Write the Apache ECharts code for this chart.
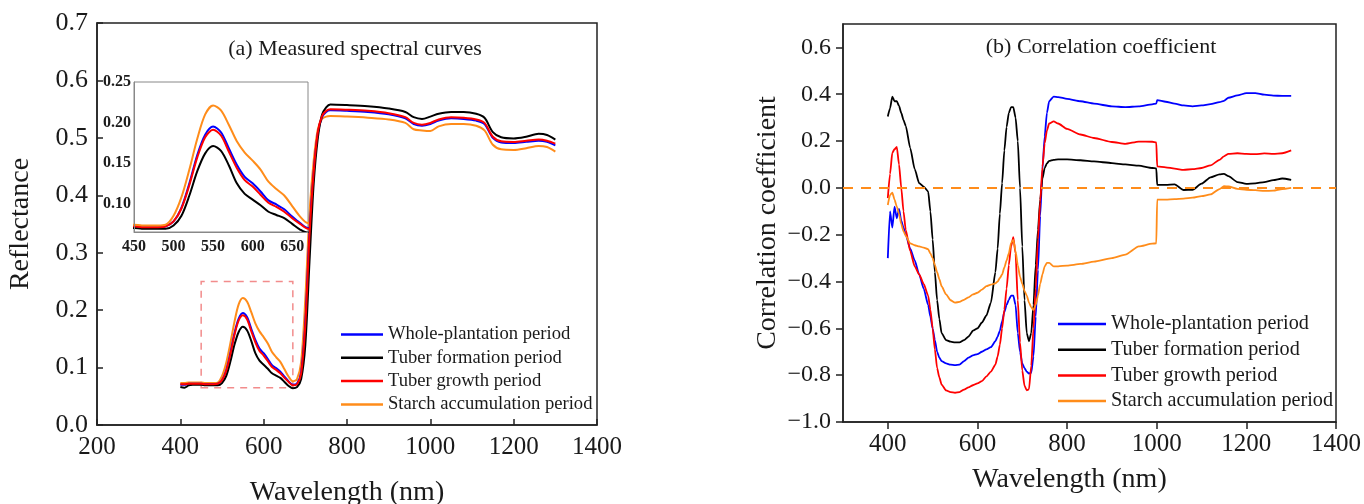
<!DOCTYPE html>
<html>
<head>
<meta charset="utf-8">
<script src="https://cdn.jsdelivr.net/npm/echarts@6/dist/echarts.min.js"></script>
<style>
  html, body { margin: 0; padding: 0; background: #fff; }
  #main { width: 1364px; height: 504px; }
</style>
</head>
<body>
<div id="main"></div>
<script>
// series names and colours
var names = ['Whole-plantation period', 'Tuber formation period', 'Tuber growth period', 'Starch accumulation period'];
var colors = ['#0000ff', '#000000', '#ff0000', '#ff8c1a'];

// (a) measured reflectance
var wlA = [400, 410, 420, 430, 440, 450, 460, 470, 480, 490, 500, 510, 520, 530, 540, 550, 560, 570, 580, 590,
  600, 610, 620, 630, 640, 650, 660, 670, 680, 690, 700, 710, 720, 730, 740, 750, 760, 800, 850, 900,
  940, 960, 980, 1000, 1020, 1050, 1080, 1110, 1130, 1150, 1170, 1200, 1230, 1260, 1280, 1300];
var reflWhole = [0.070, 0.070, 0.072, 0.072, 0.072, 0.072, 0.071, 0.071, 0.071, 0.072, 0.078, 0.095, 0.125, 0.160, 0.185, 0.195, 0.188, 0.168, 0.148, 0.133,
  0.125, 0.115, 0.104, 0.099, 0.093, 0.084, 0.076, 0.070, 0.072, 0.092, 0.180, 0.335, 0.440, 0.508, 0.536, 0.545, 0.548, 0.547, 0.545, 0.541,
  0.534, 0.524, 0.521, 0.524, 0.530, 0.534, 0.533, 0.530, 0.524, 0.500, 0.492, 0.491, 0.493, 0.495, 0.493, 0.487];
var reflFormation = [0.066, 0.065, 0.069, 0.070, 0.070, 0.070, 0.069, 0.069, 0.069, 0.069, 0.073, 0.085, 0.110, 0.140, 0.162, 0.171, 0.165, 0.147, 0.125, 0.112,
  0.105, 0.098, 0.090, 0.086, 0.082, 0.075, 0.068, 0.064, 0.066, 0.080, 0.140, 0.285, 0.420, 0.500, 0.540, 0.553, 0.558, 0.557, 0.555, 0.551,
  0.545, 0.536, 0.533, 0.537, 0.542, 0.545, 0.545, 0.542, 0.535, 0.510, 0.501, 0.499, 0.502, 0.507, 0.505, 0.497];
var reflGrowth = [0.071, 0.071, 0.072, 0.072, 0.072, 0.072, 0.071, 0.071, 0.071, 0.072, 0.078, 0.094, 0.123, 0.157, 0.182, 0.191, 0.184, 0.164, 0.144, 0.129,
  0.121, 0.111, 0.101, 0.096, 0.090, 0.082, 0.075, 0.069, 0.071, 0.090, 0.175, 0.330, 0.440, 0.510, 0.538, 0.547, 0.550, 0.549, 0.547, 0.543,
  0.536, 0.526, 0.523, 0.526, 0.532, 0.536, 0.535, 0.532, 0.526, 0.502, 0.494, 0.493, 0.495, 0.497, 0.495, 0.490];
var reflStarch = [0.073, 0.073, 0.074, 0.074, 0.074, 0.074, 0.073, 0.073, 0.073, 0.074, 0.085, 0.108, 0.142, 0.180, 0.210, 0.221, 0.215, 0.197, 0.177, 0.163,
  0.153, 0.142, 0.127, 0.118, 0.110, 0.097, 0.084, 0.076, 0.080, 0.110, 0.220, 0.370, 0.460, 0.515, 0.533, 0.537, 0.538, 0.537, 0.535, 0.532,
  0.526, 0.515, 0.513, 0.512, 0.520, 0.524, 0.524, 0.521, 0.513, 0.488, 0.480, 0.479, 0.482, 0.486, 0.484, 0.476];

// (b) correlation coefficient
var wlB = [400, 405, 410, 415, 420, 425, 430, 435, 440, 450, 460, 470, 480, 490, 495, 500, 505, 510, 515, 520,
  530, 540, 550, 560, 570, 580, 590, 600, 610, 620, 630, 640, 645, 650, 655, 660, 665, 670, 675, 680,
  685, 690, 695, 700, 705, 710, 715, 720, 725, 730, 735, 740, 745, 750, 755, 760, 770, 780, 800, 830,
  860, 900, 930, 960, 990, 999, 1001, 1020, 1040, 1060, 1080, 1100, 1120, 1140, 1150, 1160, 1180, 1200, 1220, 1240,
  1260, 1280, 1300];
var corrWhole = [-0.30, -0.10, -0.17, -0.08, -0.13, -0.09, -0.14, -0.17, -0.20, -0.26, -0.31, -0.37, -0.43, -0.50, -0.55, -0.60, -0.65, -0.70, -0.725, -0.74,
  -0.75, -0.755, -0.757, -0.755, -0.74, -0.725, -0.715, -0.71, -0.70, -0.69, -0.68, -0.655, -0.635, -0.61, -0.57, -0.53, -0.50, -0.478, -0.46, -0.46,
  -0.50, -0.62, -0.70, -0.75, -0.77, -0.785, -0.793, -0.79, -0.72, -0.55, -0.35, -0.12, 0.08, 0.22, 0.32, 0.37, 0.39, 0.388, 0.38, 0.37,
  0.36, 0.348, 0.345, 0.348, 0.357, 0.36, 0.375, 0.368, 0.36, 0.352, 0.348, 0.352, 0.358, 0.366, 0.372, 0.385, 0.395, 0.405, 0.405, 0.398,
  0.394, 0.393, 0.393];
var corrFormation = [0.305, 0.34, 0.39, 0.37, 0.37, 0.35, 0.32, 0.29, 0.265, 0.17, 0.08, 0.02, 0.005, -0.015, -0.10, -0.22, -0.36, -0.48, -0.56, -0.62,
  -0.65, -0.657, -0.66, -0.66, -0.65, -0.635, -0.61, -0.60, -0.575, -0.545, -0.49, -0.36, -0.26, -0.11, 0.02, 0.16, 0.26, 0.32, 0.345, 0.345,
  0.30, 0.20, 0.0, -0.25, -0.48, -0.62, -0.655, -0.62, -0.50, -0.33, -0.18, -0.05, 0.04, 0.085, 0.105, 0.115, 0.12, 0.122, 0.122, 0.118,
  0.113, 0.106, 0.10, 0.095, 0.085, 0.083, 0.013, 0.013, 0.015, -0.009, -0.008, 0.018, 0.045, 0.058, 0.06, 0.05, 0.025, 0.017, 0.019, 0.025,
  0.033, 0.04, 0.034];
var corrGrowth = [-0.044, 0.06, 0.15, 0.165, 0.175, 0.10, 0.0, -0.10, -0.18, -0.27, -0.335, -0.37, -0.41, -0.46, -0.52, -0.60, -0.69, -0.77, -0.81, -0.84,
  -0.865, -0.872, -0.875, -0.872, -0.862, -0.852, -0.843, -0.835, -0.825, -0.805, -0.785, -0.755, -0.72, -0.67, -0.60, -0.52, -0.43, -0.33, -0.25, -0.21,
  -0.28, -0.48, -0.66, -0.78, -0.845, -0.865, -0.86, -0.76, -0.60, -0.43, -0.22, -0.06, 0.09, 0.19, 0.245, 0.275, 0.284, 0.275, 0.252, 0.228,
  0.213, 0.196, 0.188, 0.198, 0.197, 0.194, 0.092, 0.088, 0.082, 0.077, 0.08, 0.085, 0.096, 0.12, 0.135, 0.145, 0.148, 0.145, 0.144, 0.147,
  0.145, 0.148, 0.16];
var corrStarch = [-0.073, -0.03, -0.02, -0.05, -0.08, -0.11, -0.155, -0.185, -0.205, -0.237, -0.245, -0.25, -0.255, -0.262, -0.28, -0.30, -0.33, -0.36, -0.39, -0.42,
  -0.455, -0.48, -0.49, -0.487, -0.478, -0.468, -0.455, -0.448, -0.435, -0.42, -0.413, -0.408, -0.40, -0.385, -0.37, -0.34, -0.31, -0.28, -0.235, -0.222,
  -0.27, -0.33, -0.38, -0.41, -0.44, -0.46, -0.49, -0.51, -0.522, -0.50, -0.46, -0.41, -0.37, -0.335, -0.32, -0.32, -0.335, -0.335, -0.332, -0.325,
  -0.315, -0.30, -0.285, -0.25, -0.238, -0.237, -0.05, -0.05, -0.048, -0.046, -0.042, -0.035, -0.028, -0.005, 0.007, 0.006, -0.004, -0.008, -0.01, -0.013,
  -0.012, -0.005, 0.0];

// zoomed window shown in the inset of (a)
var zoomX = [450, 670];
var zoomY = [0.065, 0.25];
var insetXTicks = [450, 500, 550, 600, 650];
var insetYTicks = [0.10, 0.15, 0.20, 0.25];
var corrXTicks = [400, 600, 800, 1000, 1200, 1400];

var reflSets = [reflWhole, reflFormation, reflGrowth, reflStarch];
var corrSets = [corrWhole, corrFormation, corrGrowth, corrStarch];

function pairs(xs, ys) {
  return xs.map(function (x, i) { return [x, ys[i]]; });
}
function plain(v) { return String(v); }

var serif = '"Liberation Serif", "Times New Roman", serif';
var ink = '#1a1a1a';

var series = [];
// main curves (a)
reflSets.forEach(function (vals, i) {
  series.push({
    name: names[i], type: 'line', xAxisIndex: 0, yAxisIndex: 0,
    data: pairs(wlA, vals), symbol: 'none', smooth: 0.3,
    lineStyle: { color: colors[i], width: 2 }, itemStyle: { color: colors[i] },
    z: i === 3 ? 2 : 3
  });
});
// dashed box of the zoom window
series[0].markArea = {
  silent: true,
  itemStyle: { color: 'rgba(0,0,0,0)', borderColor: '#f28c8c', borderWidth: 1.5, borderType: [7, 6] },
  data: [[{ coord: [zoomX[0], zoomY[0]] }, { coord: [zoomX[1], zoomY[1]] }]]
};
// inset curves
reflSets.forEach(function (vals, i) {
  series.push({
    name: names[i], type: 'line', xAxisIndex: 1, yAxisIndex: 1,
    data: pairs(wlA, vals), symbol: 'none', smooth: 0.3, clip: true,
    lineStyle: { color: colors[i], width: 2 }, itemStyle: { color: colors[i] }, z: 5
  });
});
// correlation curves (b)
corrSets.forEach(function (vals, i) {
  series.push({
    name: names[i], type: 'line', xAxisIndex: 2, yAxisIndex: 2,
    data: pairs(wlB, vals), symbol: 'none', smooth: 0.2, smoothMonotone: 'x',
    lineStyle: { color: colors[i], width: 1.8 }, itemStyle: { color: colors[i] }
  });
});
// zero reference line
series[8].markLine = {
  silent: true, symbol: 'none', label: { show: false },
  lineStyle: { color: '#ff8c1a', width: 2, type: [10, 8] },
  data: [{ yAxis: 0 }]
};

var chart = echarts.init(document.getElementById('main'));
chart.setOption({
  animation: false,
  backgroundColor: '#fff',
  title: [
    { text: '(a) Measured spectral curves', left: 350, top: 33, textAlign: 'center',
      textStyle: { fontFamily: serif, fontSize: 22, fontWeight: 'normal', color: ink } },
    { text: '(b) Correlation coefficient', left: 1096, top: 31, textAlign: 'center',
      textStyle: { fontFamily: serif, fontSize: 22, fontWeight: 'normal', color: ink } }
  ],
  legend: [
    { orient: 'vertical', left: 336, top: 320, icon: 'rect', itemWidth: 42, itemHeight: 2.5, itemGap: 4.3,
      data: names, selectedMode: false,
      textStyle: { fontFamily: serif, fontSize: 18.6, color: ink } },
    { orient: 'vertical', left: 1053, top: 309, icon: 'rect', itemWidth: 48, itemHeight: 2.5, itemGap: 5.7,
      data: names, selectedMode: false,
      textStyle: { fontFamily: serif, fontSize: 20.2, color: ink } }
  ],
  grid: [
    { left: 97, top: 23, width: 500, height: 402, show: true, borderColor: '#222', borderWidth: 1.5, outerBoundsMode: 'none' },
    { left: 134, top: 82, width: 174, height: 150, show: true, borderColor: '#888', borderWidth: 1,
      backgroundColor: '#fff', z: 4, outerBoundsMode: 'none' },
    { left: 843, top: 24, width: 493, height: 398, show: true, borderColor: '#222', borderWidth: 1.5, outerBoundsMode: 'none' }
  ],
  xAxis: [
    { type: 'value', gridIndex: 0, min: 200, max: 1400, interval: 200,
      name: 'Wavelength (nm)', nameLocation: 'middle', nameGap: 54,
      nameTextStyle: { fontFamily: serif, fontSize: 28, color: ink },
      axisLine: { onZero: false, lineStyle: { color: '#222', width: 1.5 } },
      axisTick: { inside: true, length: 6, lineStyle: { color: '#222', width: 1.5 } },
      axisLabel: { fontFamily: serif, fontSize: 25, color: ink, margin: 10, formatter: plain },
      splitLine: { show: false } },
    { type: 'value', gridIndex: 1, min: zoomX[0], max: zoomX[1], z: 6,
      axisLine: { onZero: false, lineStyle: { color: '#888', width: 1 } },
      axisTick: { show: false },
      axisLabel: { customValues: insetXTicks, fontFamily: serif, fontSize: 16, fontWeight: 'bold', color: ink, margin: 7, formatter: plain },
      splitLine: { show: false } },
    { type: 'value', gridIndex: 2, min: 300, max: 1400,
      name: 'Wavelength (nm)', nameLocation: 'middle', nameGap: 44,
      nameTextStyle: { fontFamily: serif, fontSize: 28, color: ink, padding: [0, 40, 0, 0] },
      axisLine: { onZero: false, lineStyle: { color: '#222', width: 1.5 } },
      axisTick: { customValues: corrXTicks, length: 7, lineStyle: { color: '#222', width: 1.5 } },
      axisLabel: { customValues: corrXTicks, fontFamily: serif, fontSize: 25, color: ink, margin: 10, formatter: plain },
      splitLine: { show: false } }
  ],
  yAxis: [
    { type: 'value', gridIndex: 0, min: 0, max: 0.7, interval: 0.1,
      name: 'Reflectance', nameLocation: 'middle', nameGap: 62,
      nameTextStyle: { fontFamily: serif, fontSize: 28, color: ink },
      axisLine: { onZero: false, lineStyle: { color: '#222', width: 1.5 } },
      axisTick: { inside: true, length: 6, lineStyle: { color: '#222', width: 1.5 } },
      axisLabel: { fontFamily: serif, fontSize: 26, color: ink, margin: 9,
        formatter: function (v) { return v.toFixed(1); } },
      splitLine: { show: false } },
    { type: 'value', gridIndex: 1, min: zoomY[0], max: zoomY[1], z: 6,
      axisLine: { onZero: false, lineStyle: { color: '#888', width: 1 } },
      axisTick: { show: false },
      axisLabel: { customValues: insetYTicks, fontFamily: serif, fontSize: 16, fontWeight: 'bold', color: ink, margin: 3,
        formatter: function (v) { return v.toFixed(2); } },
      splitLine: { show: false } },
    { type: 'value', gridIndex: 2, min: -1, max: 0.7, interval: 0.2,
      name: 'Correlation coefficient', nameLocation: 'middle', nameGap: 61,
      nameTextStyle: { fontFamily: serif, fontSize: 28, color: ink },
      axisLine: { onZero: false, lineStyle: { color: '#222', width: 1.5 } },
      axisTick: { length: 7, lineStyle: { color: '#222', width: 1.5 } },
      axisLabel: { fontFamily: serif, fontSize: 24, color: ink, margin: 12, showMaxLabel: false,
        formatter: function (v) { return v.toFixed(1).replace('-', '\u2212'); } },
      splitLine: { show: false } }
  ],
  series: series
});
</script>
</body>
</html>
